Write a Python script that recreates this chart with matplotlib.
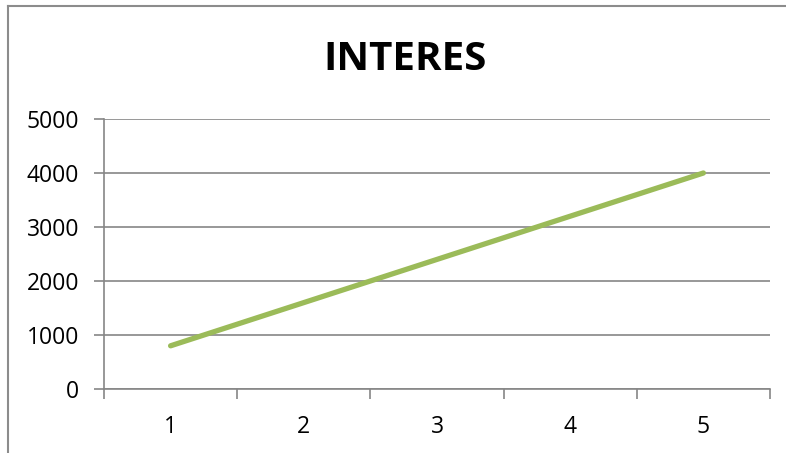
import numpy as np
import matplotlib.pyplot as plt

plt.rcParams['font.family'] = ['Open Sans', 'DejaVu Sans']

periods = [1, 2, 3, 4, 5]
interes = [800, 1600, 2400, 3200, 4000]
yticks = [0, 1000, 2000, 3000, 4000, 5000]

W, H = 786, 453
fig = plt.figure(figsize=(W / 100, H / 100), dpi=100)

# chart frame (only left and top edges show in the crop)
fig.add_artist(plt.Line2D([8 / W, 8 / W], [0, 1 - 6 / H], transform=fig.transFigure,
                          color='#8c8c8c', lw=1.5))
fig.add_artist(plt.Line2D([8 / W, 1], [1 - 6 / H, 1 - 6 / H], transform=fig.transFigure,
                          color='#8c8c8c', lw=1.5))

left, right, top, bottom = 104, 770, 119, 389
ax = fig.add_axes([left / W, 1 - bottom / H, (right - left) / W, (bottom - top) / H])

grid_c = '#868686'
ax.plot(periods, interes, color='#9bbb59', lw=3.8, solid_capstyle='round', zorder=3)

ax.set_xlim(0.5, 5.5)
ax.set_ylim(0, 5000)
ax.set_yticks(yticks)
ax.set_yticklabels([str(v) for v in yticks])
ax.yaxis.grid(True, color=grid_c, lw=1.2)
ax.set_axisbelow(True)

ax.set_xticks(np.arange(0.5, 6, 1))
ax.set_xticklabels([])
ax.set_xticks(periods, minor=True)
ax.set_xticklabels([str(p) for p in periods], minor=True)
ax.tick_params(axis='x', which='minor', length=0, pad=19, labelsize=16.5)
ax.tick_params(axis='x', which='major', length=7, width=1.2, color=grid_c, direction='out')
ax.tick_params(axis='y', length=7, width=1.2, color=grid_c, direction='out', pad=11,
               labelsize=16.5)

for s in ['top', 'right']:
    ax.spines[s].set_visible(False)
for s in ['left', 'bottom']:
    ax.spines[s].set_color(grid_c)
    ax.spines[s].set_linewidth(1.2)

fig.text(405 / W, 1 - 60 / H, 'INTERES', ha='center', va='center',
         fontsize=29, fontweight='bold')

fig.savefig('out.png', dpi=100)
